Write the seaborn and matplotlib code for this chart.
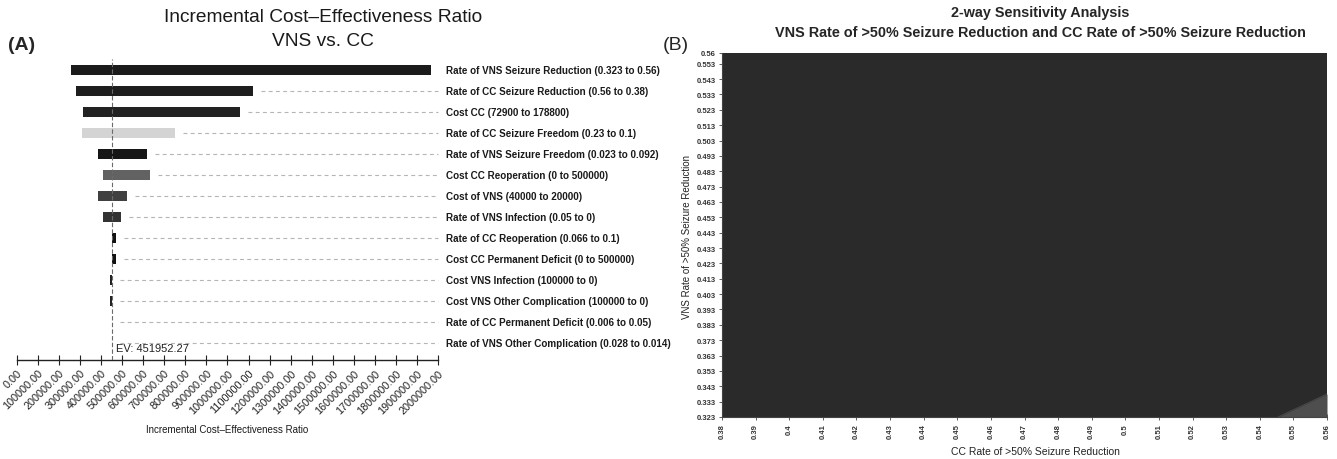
import matplotlib
matplotlib.use("Agg")
import matplotlib.pyplot as plt
import matplotlib.transforms as mtransforms
import numpy as np
import pandas as pd
import seaborn as sns

# ---------------- data ----------------
param_labels = [
    "Rate of VNS Seizure Reduction (0.323 to 0.56)",
    "Rate of CC Seizure Reduction (0.56 to 0.38)",
    "Cost CC (72900 to 178800)",
    "Rate of CC Seizure Freedom (0.23 to 0.1)",
    "Rate of VNS Seizure Freedom (0.023 to 0.092)",
    "Cost CC Reoperation (0 to 500000)",
    "Cost of VNS (40000 to 20000)",
    "Rate of VNS Infection (0.05 to 0)",
    "Rate of CC Reoperation (0.066 to 0.1)",
    "Cost CC Permanent Deficit (0 to 500000)",
    "Cost VNS Infection (100000 to 0)",
    "Cost VNS Other Complication (100000 to 0)",
    "Rate of CC Permanent Deficit (0.006 to 0.05)",
    "Rate of VNS Other Complication (0.028 to 0.014)",
]
icer_low = [256500, 281700, 312000, 308800, 383200, 410000, 383200,
            410000, 452000, 452000, 441000, 443000, 451000, 451500]
icer_high = [1966700, 1119700, 1059400, 752000, 619200, 630400, 521100,
             494100, 471800, 471800, 452500, 452500, 453500, 452500]
ev_value = 451952.27
icer_ticks = [0, 100000, 200000, 300000, 400000, 500000, 600000, 700000,
              800000, 900000, 1000000, 1100000, 1200000, 1300000, 1400000,
              1500000, 1600000, 1700000, 1800000, 1900000, 2000000]

cc_ticks = [0.38, 0.39, 0.40, 0.41, 0.42, 0.43, 0.44, 0.45, 0.46, 0.47,
            0.48, 0.49, 0.50, 0.51, 0.52, 0.53, 0.54, 0.55, 0.56]
vns_ticks = [0.323, 0.333, 0.343, 0.353, 0.363, 0.373, 0.383, 0.393,
             0.403, 0.413, 0.423, 0.433, 0.443, 0.453, 0.463, 0.473,
             0.483, 0.493, 0.503, 0.513, 0.523, 0.533, 0.543, 0.553, 0.56]
# boundary of the lighter region (bottom-right corner)
region_cc = [0.5454, 0.56]
region_vns = [0.323, 0.338]

# ---------------- styles ----------------
bar_colors = ["#1b1b1b", "#1e1e1e", "#222222", "#d4d4d4", "#161616",
              "#626262", "#404040", "#333333", "#111111", "#111111",
              "#222222", "#222222", "#222222", "#222222"]

sns.set_style("white")
plt.rcParams["font.family"] = ["Liberation Sans", "DejaVu Sans"]

W, H = 1337, 460
fig = plt.figure(figsize=(W / 100, H / 100), dpi=100)


def fx(px):
    return px / W


def fy(py):
    return 1 - py / H


# ---------------- panel A: tornado ----------------
axL = fig.add_axes([fx(17), fy(361), fx(421), (361 - 60) / H])
df = pd.DataFrame({"label": param_labels, "low": icer_low, "high": icer_high})
rows = np.arange(len(df))
axL.barh(rows, df["high"] - df["low"], left=df["low"], height=0.5,
         color=bar_colors, lw=0, zorder=2)
gap = 38000
for i, hi in enumerate(df["high"]):
    if hi + gap < icer_ticks[-1] - 20000:
        axL.plot([hi + gap, icer_ticks[-1]], [i, i], color="#b5b5b5",
                 lw=0.8, ls=(0, (3.5, 3)), zorder=1, clip_on=False)
axL.axvline(ev_value, color="#6a6a6a", lw=0.8, ls=(0, (4, 2)), zorder=3)
axL.text(ev_value + 18000, 13.25, f"EV: {ev_value:.2f}", fontsize=8,
         va="center", ha="left", color="#222222")

axL.set_xlim(icer_ticks[0], icer_ticks[-1])
axL.set_ylim(13.81, -0.524)
axL.set_yticks([])
for s in ["left", "top", "right"]:
    axL.spines[s].set_visible(False)
axL.spines["bottom"].set_color("#222222")
axL.spines["bottom"].set_linewidth(1.0)
axL.set_xticks(icer_ticks)
axL.set_xticklabels([f"{v:.2f}" for v in icer_ticks], rotation=45,
                    ha="right", rotation_mode="anchor", fontsize=7.8,
                    color="#222222")
axL.tick_params(axis="x", bottom=True, direction="inout", length=7,
                width=0.8, color="#222222", pad=2)

trans = mtransforms.blended_transform_factory(axL.transAxes, axL.transData)
for i, lab in enumerate(param_labels):
    axL.text((446 - 17) / 421, i, lab, transform=trans, fontsize=7.1,
             fontweight="bold", va="center", ha="left", color="#1a1a1a")

fig.text(fx(227), fy(430), "Incremental Cost–Effectiveness Ratio",
         fontsize=7, ha="center", va="center", color="#1a1a1a")
fig.text(fx(323), fy(18), "Incremental Cost–Effectiveness Ratio",
         fontsize=13.8, ha="center", va="center", color="#1a1a1a")
fig.text(fx(323), fy(41), "VNS vs. CC",
         fontsize=13.8, ha="center", va="center", color="#1a1a1a")
fig.text(fx(8), fy(46), "(A)", fontsize=14, fontweight="bold",
         ha="left", va="center")

# ---------------- panel B: 2-way sensitivity ----------------
axR = fig.add_axes([fx(722), fy(418), fx(605), (418 - 54) / H])
axR.fill_between([cc_ticks[0], cc_ticks[-1]], vns_ticks[0], vns_ticks[-1],
                 color="#2a2a2a", lw=0)
axR.fill_between(region_cc, vns_ticks[0], region_vns, color="#4e4e4e", lw=0)
sns.lineplot(x=region_cc, y=region_vns, ax=axR, color="#4e4e4e", lw=0.6)
axR.set_xlim(cc_ticks[0], cc_ticks[-1])
axR.set_ylim(vns_ticks[0], vns_ticks[-1])
axR.set_xticks(cc_ticks)
axR.set_xticklabels([f"{v:g}" for v in cc_ticks], rotation=90,
                    fontsize=5.5, fontweight="bold", color="#333333")
axR.set_yticks(vns_ticks)
axR.set_yticklabels([f"{v:g}" for v in vns_ticks], fontsize=5.5,
                    fontweight="bold", color="#333333")
for s in ["top", "right"]:
    axR.spines[s].set_visible(False)
for s in ["left", "bottom"]:
    axR.spines[s].set_color("#444444")
    axR.spines[s].set_linewidth(0.8)
axR.tick_params(axis="both", bottom=True, left=True, direction="inout",
                length=5, width=0.6, color="#444444", pad=2)

fig.text(fx(687), fy(237), "VNS Rate of >50% Seizure Reduction",
         rotation=90, fontsize=7, ha="center", va="center", color="#222222")
fig.text(fx(1035), fy(452), "CC Rate of >50% Seizure Reduction",
         fontsize=7.5, ha="center", va="center", color="#222222")
fig.text(fx(1040), fy(13), "2-way Sensitivity Analysis", fontsize=10.4,
         fontweight="bold", ha="center", va="center")
fig.text(fx(1040), fy(33),
         "VNS Rate of >50% Seizure Reduction and CC Rate of >50% Seizure Reduction",
         fontsize=10.4, fontweight="bold", ha="center", va="center")
fig.text(fx(663), fy(45), "(B)", fontsize=14, ha="left", va="center")

fig.savefig("out.png", dpi=100)
